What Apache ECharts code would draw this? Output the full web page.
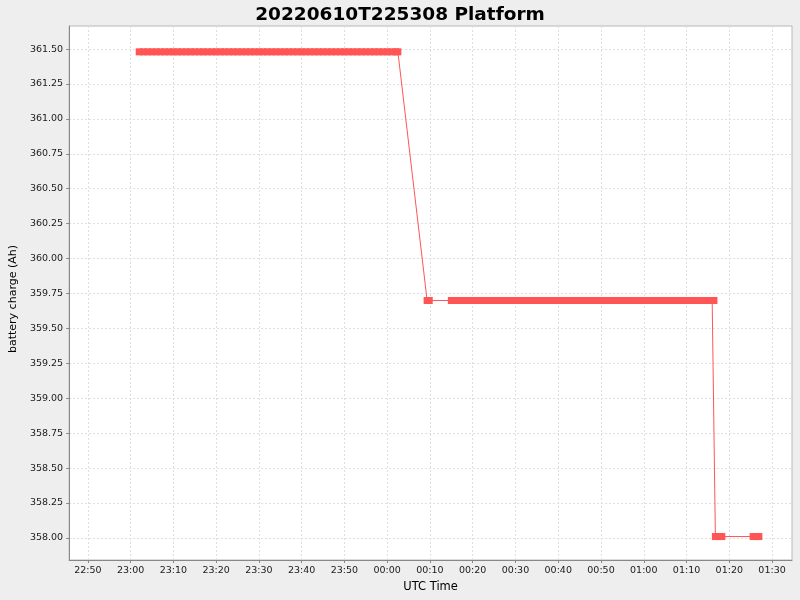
<!DOCTYPE html>
<html>
<head>
<meta charset="utf-8">
<title>20220610T225308 Platform</title>
<script src="https://cdn.jsdelivr.net/npm/echarts@6/dist/echarts.min.js"></script>
<style>
  html, body { margin: 0; padding: 0; background: #eeeeee; }
  #chart { width: 800px; height: 600px; }
</style>
</head>
<body>
<div id="chart"></div>
<script>
// readings: [UTC time, battery charge (Ah)] -- times after midnight belong to 2022-06-11
var readings = [
  ['23:02', 361.48], ['23:03', 361.48], ['23:04', 361.48], ['23:05', 361.48], ['23:06', 361.48],
  ['23:07', 361.48], ['23:08', 361.48], ['23:09', 361.48], ['23:10', 361.48], ['23:11', 361.48],
  ['23:12', 361.48], ['23:13', 361.48], ['23:14', 361.48], ['23:15', 361.48], ['23:16', 361.48],
  ['23:17', 361.48], ['23:18', 361.48], ['23:19', 361.48], ['23:20', 361.48], ['23:21', 361.48],
  ['23:22', 361.48], ['23:23', 361.48], ['23:24', 361.48], ['23:25', 361.48], ['23:26', 361.48],
  ['23:27', 361.48], ['23:28', 361.48], ['23:29', 361.48], ['23:30', 361.48], ['23:31', 361.48],
  ['23:32', 361.48], ['23:33', 361.48], ['23:34', 361.48], ['23:35', 361.48], ['23:36', 361.48],
  ['23:37', 361.48], ['23:38', 361.48], ['23:39', 361.48], ['23:40', 361.48], ['23:41', 361.48],
  ['23:42', 361.48], ['23:43', 361.48], ['23:44', 361.48], ['23:45', 361.48], ['23:46', 361.48],
  ['23:47', 361.48], ['23:48', 361.48], ['23:49', 361.48], ['23:50', 361.48], ['23:51', 361.48],
  ['23:52', 361.48], ['23:53', 361.48], ['23:54', 361.48], ['23:55', 361.48], ['23:56', 361.48],
  ['23:57', 361.48], ['23:58', 361.48], ['23:59', 361.48], ['00:00', 361.48], ['00:01', 361.48],
  ['00:02', 361.48], ['00:02:30', 361.48],
  ['00:09:20', 359.70], ['00:09:50', 359.70],
  ['00:15', 359.70], ['00:16', 359.70], ['00:17', 359.70], ['00:18', 359.70], ['00:19', 359.70],
  ['00:20', 359.70], ['00:21', 359.70], ['00:22', 359.70], ['00:23', 359.70], ['00:24', 359.70],
  ['00:25', 359.70], ['00:26', 359.70], ['00:27', 359.70], ['00:28', 359.70], ['00:29', 359.70],
  ['00:30', 359.70], ['00:31', 359.70], ['00:32', 359.70], ['00:33', 359.70], ['00:34', 359.70],
  ['00:35', 359.70], ['00:36', 359.70], ['00:37', 359.70], ['00:38', 359.70], ['00:39', 359.70],
  ['00:40', 359.70], ['00:41', 359.70], ['00:42', 359.70], ['00:43', 359.70], ['00:44', 359.70],
  ['00:45', 359.70], ['00:46', 359.70], ['00:47', 359.70], ['00:48', 359.70], ['00:49', 359.70],
  ['00:50', 359.70], ['00:51', 359.70], ['00:52', 359.70], ['00:53', 359.70], ['00:54', 359.70],
  ['00:55', 359.70], ['00:56', 359.70], ['00:57', 359.70], ['00:58', 359.70], ['00:59', 359.70],
  ['01:00', 359.70], ['01:01', 359.70], ['01:02', 359.70], ['01:03', 359.70], ['01:04', 359.70],
  ['01:05', 359.70], ['01:06', 359.70], ['01:07', 359.70], ['01:08', 359.70], ['01:09', 359.70],
  ['01:10', 359.70], ['01:11', 359.70], ['01:12', 359.70], ['01:13', 359.70], ['01:14', 359.70],
  ['01:15', 359.70], ['01:16', 359.70], ['01:16:25', 359.70],
  ['01:16:45', 358.01], ['01:17:15', 358.01], ['01:17:45', 358.01], ['01:18:15', 358.01],
  ['01:25:35', 358.01], ['01:26:05', 358.01], ['01:26:35', 358.01], ['01:26:55', 358.01]
];

var xTicks = ['22:50', '23:00', '23:10', '23:20', '23:30', '23:40', '23:50', '00:00',
  '00:10', '00:20', '00:30', '00:40', '00:50', '01:00', '01:10', '01:20', '01:30'];
var yTicks = [358.00, 358.25, 358.50, 358.75, 359.00, 359.25, 359.50, 359.75,
  360.00, 360.25, 360.50, 360.75, 361.00, 361.25, 361.50];

var xRange = ['22:45:37', '01:34:40'];
var yRange = [357.842, 361.665];

function toMs(t) {
  var p = t.split(':').map(Number);
  var day = p[0] >= 12 ? 10 : 11;
  return Date.UTC(2022, 5, day, p[0], p[1], p[2] || 0);
}

function pad(n) { return (n < 10 ? '0' : '') + n; }

var gridLine = { show: true, lineStyle: { color: '#dedede', type: [2, 2], width: 1 } };
var labelFont = { fontFamily: 'DejaVu Sans', fontSize: 9.5, color: '#1a1a1a' };

var chart = echarts.init(document.getElementById('chart'), null, { renderer: 'canvas' });

chart.setOption({
  backgroundColor: '#eeeeee',
  animation: false,
  title: {
    text: '20220610T225308 Platform',
    left: 'center',
    top: 1,
    textStyle: { fontFamily: 'DejaVu Sans', fontWeight: 'bold', fontSize: 18.5, color: '#000000' }
  },
  grid: {
    left: 68, right: 8, top: 26, bottom: 40,
    show: true, backgroundColor: '#ffffff', borderColor: '#b8b8b8', borderWidth: 1
  },
  xAxis: {
    type: 'value',
    min: toMs(xRange[0]),
    max: toMs(xRange[1]),
    name: 'UTC Time',
    nameLocation: 'middle',
    nameGap: 19,
    nameTextStyle: { fontFamily: 'DejaVu Sans', fontSize: 11.5, color: '#000000' },
    axisLine: { show: true, lineStyle: { color: '#888888' } },
    axisTick: {
      show: true, length: 3, lineStyle: { color: '#888888' },
      customValues: xTicks.map(toMs)
    },
    axisLabel: Object.assign({
      margin: 6,
      customValues: xTicks.map(toMs),
      formatter: function (v) {
        var d = new Date(v);
        return pad(d.getUTCHours()) + ':' + pad(d.getUTCMinutes());
      }
    }, labelFont),
    splitLine: gridLine
  },
  yAxis: {
    type: 'value',
    min: yRange[0],
    max: yRange[1],
    name: 'battery charge (Ah)',
    nameLocation: 'middle',
    nameGap: 39,
    nameTextStyle: {
      fontFamily: 'DejaVu Sans', fontSize: 11, color: '#000000',
      padding: [0, 12, 0, 0]
    },
    axisLine: { show: true, lineStyle: { color: '#888888' } },
    axisTick: {
      show: true, length: 3, lineStyle: { color: '#888888' },
      customValues: yTicks
    },
    axisLabel: Object.assign({
      margin: 6,
      customValues: yTicks,
      formatter: function (v) { return v.toFixed(2); }
    }, labelFont),
    splitLine: gridLine
  },
  series: [{
    type: 'line',
    data: readings.map(function (r) { return [toMs(r[0]), r[1]]; }),
    symbol: 'rect',
    symbolSize: 7,
    showAllSymbol: true,
    color: '#ff5555',
    itemStyle: { color: '#ff5555' },
    lineStyle: { color: '#ff5555', width: 1 },
    silent: true
  }]
});
</script>
</body>
</html>
